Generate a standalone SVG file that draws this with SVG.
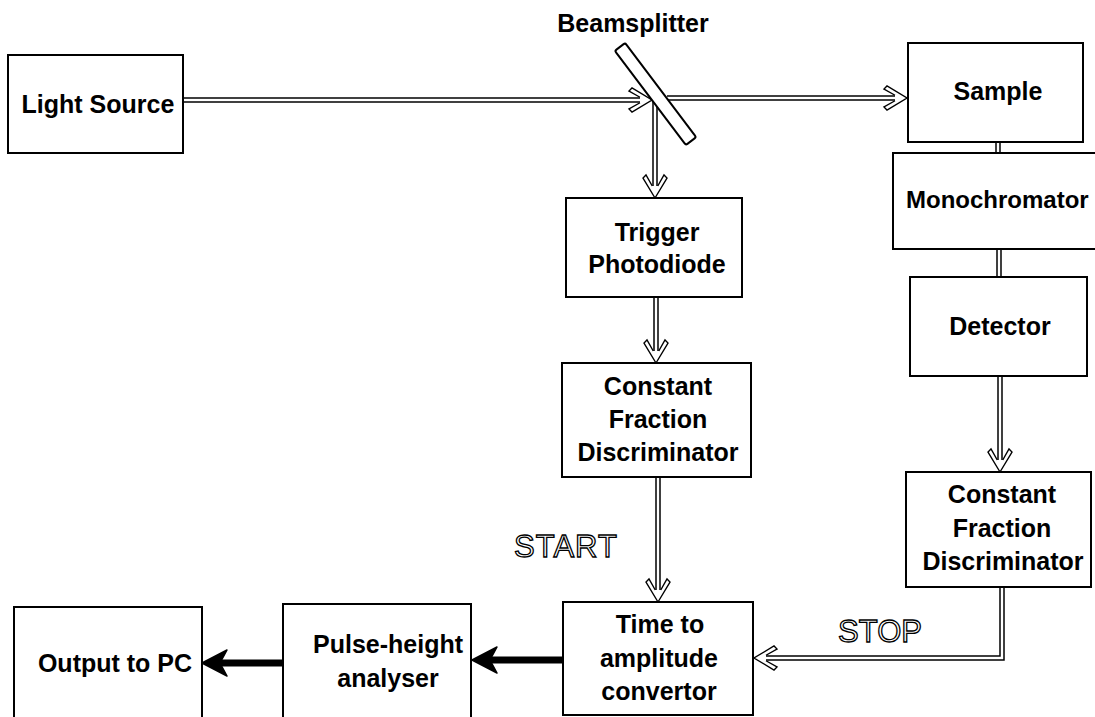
<svg xmlns="http://www.w3.org/2000/svg" xmlns:xlink="http://www.w3.org/1999/xlink" width="1095" height="717" viewBox="0 0 1095 717">
<style>
.box{fill:#fff;stroke:#000;stroke-width:2}
.t{font-family:"Liberation Sans",Arial,sans-serif;font-weight:bold;font-size:25px;fill:#000;text-anchor:middle}
.ol{font-family:"Liberation Sans",Arial,sans-serif;font-size:31px;fill:#fff;stroke:#000;stroke-width:1.3;text-anchor:middle}
.dbo{fill:none;stroke:#000;stroke-width:5.5;stroke-linejoin:miter}
.dbi{fill:none;stroke:#fff;stroke-width:2.5;stroke-linejoin:miter}
.oa{fill:#fff;stroke:#000;stroke-width:1.4;stroke-linejoin:miter}
.thick{fill:none;stroke:#000;stroke-width:7}
.sa{fill:#000;stroke:#000;stroke-width:1.5;stroke-linejoin:round}
</style>
<defs>
<path id="oarrow" class="oa" d="M2.75,-12 L9,-23 L12,-20 L0,0 L-12,-20 L-9,-23 L-2.75,-12"/>
<path id="sarrow" class="sa" d="M0,0 L25,-13 L18,0 L25,13 Z"/>
</defs>
<g id="connectors">
<path class="dbo" d="M183,100 H642"/>
<path class="dbi" d="M183,100 H642"/>
<use xlink:href="#oarrow" transform="translate(652,100) rotate(-90)"/>
<path class="dbo" d="M667,98 H895"/>
<path class="dbi" d="M667,98 H895"/>
<use xlink:href="#oarrow" transform="translate(907,98) rotate(-90)"/>
<path class="dbo" d="M655,101 V187"/>
<path class="dbi" d="M655,101 V187"/>
<use xlink:href="#oarrow" transform="translate(655,198)"/>
<path class="dbo" d="M656,297 V352"/>
<path class="dbi" d="M656,297 V352"/>
<use xlink:href="#oarrow" transform="translate(656,363)"/>
<path class="dbo" d="M658,477 V591"/>
<path class="dbi" d="M658,477 V591"/>
<use xlink:href="#oarrow" transform="translate(658,602)"/>
<path class="dbo" d="M998,142 V153"/>
<path class="dbi" d="M998,141 V154"/>
<path class="dbo" d="M999,249 V277"/>
<path class="dbi" d="M999,248 V278"/>
<path class="dbo" d="M1000,376 V461"/>
<path class="dbi" d="M1000,376 V461"/>
<use xlink:href="#oarrow" transform="translate(1000,472)"/>
<path class="dbo" d="M1002,587 V658 H765"/>
<path class="dbi" d="M1002,587 V658 H765"/>
<use xlink:href="#oarrow" transform="translate(754,658) rotate(90)"/>
<path class="thick" d="M563,660 H490"/>
<use xlink:href="#sarrow" transform="translate(472,660)"/>
<path class="thick" d="M283,663 H220"/>
<use xlink:href="#sarrow" transform="translate(202,663)"/>
</g>
<g id="beamsplitter">
<rect x="-59" y="-6.5" width="118" height="13" rx="2" fill="#fff" stroke="#000" stroke-width="2" transform="translate(655.5,94) rotate(53)"/>
<text class="t" x="633" y="32">Beamsplitter</text>
</g>
<g id="light-source">
<rect class="box" x="8" y="55" width="175" height="98"/>
<text class="t" x="98" y="113">Light Source</text>
</g>
<g id="sample">
<rect class="box" x="908" y="43" width="175" height="99"/>
<text class="t" x="998" y="100">Sample</text>
</g>
<g id="monochromator">
<rect class="box" x="893" y="153" width="215" height="96"/>
<text class="t" x="906" y="208" style="text-anchor:start;font-size:24px">Monochromator</text>
</g>
<g id="detector">
<rect class="box" x="910" y="277" width="177" height="99"/>
<text class="t" x="1000" y="335">Detector</text>
</g>
<g id="cfd2">
<rect class="box" x="906" y="472" width="185" height="115"/>
<text class="t" x="1002" y="503">Constant</text>
<text class="t" x="1002" y="537">Fraction</text>
<text class="t" x="1003" y="570">Discriminator</text>
</g>
<g id="trigger-photodiode">
<rect class="box" x="566" y="198" width="176" height="99"/>
<text class="t" x="657" y="241">Trigger</text>
<text class="t" x="657" y="273">Photodiode</text>
</g>
<g id="cfd1">
<rect class="box" x="562" y="363" width="189" height="114"/>
<text class="t" x="658" y="395">Constant</text>
<text class="t" x="658" y="428">Fraction</text>
<text class="t" x="658" y="461">Discriminator</text>
</g>
<g id="tac">
<rect class="box" x="563" y="602" width="190" height="113"/>
<text class="t" x="660" y="633">Time to</text>
<text class="t" x="659" y="667">amplitude</text>
<text class="t" x="659" y="700">convertor</text>
</g>
<g id="pha">
<rect class="box" x="283" y="604" width="188" height="120"/>
<text class="t" x="388" y="653">Pulse-height</text>
<text class="t" x="388" y="687">analyser</text>
</g>
<g id="output">
<rect class="box" x="14" y="607" width="188" height="120"/>
<text class="t" x="115" y="672">Output to PC</text>
</g>
<g id="labels">
<text class="ol" x="566" y="557" style="letter-spacing:1px">START</text>
<text class="ol" x="880" y="642">STOP</text>
</g>
</svg>
